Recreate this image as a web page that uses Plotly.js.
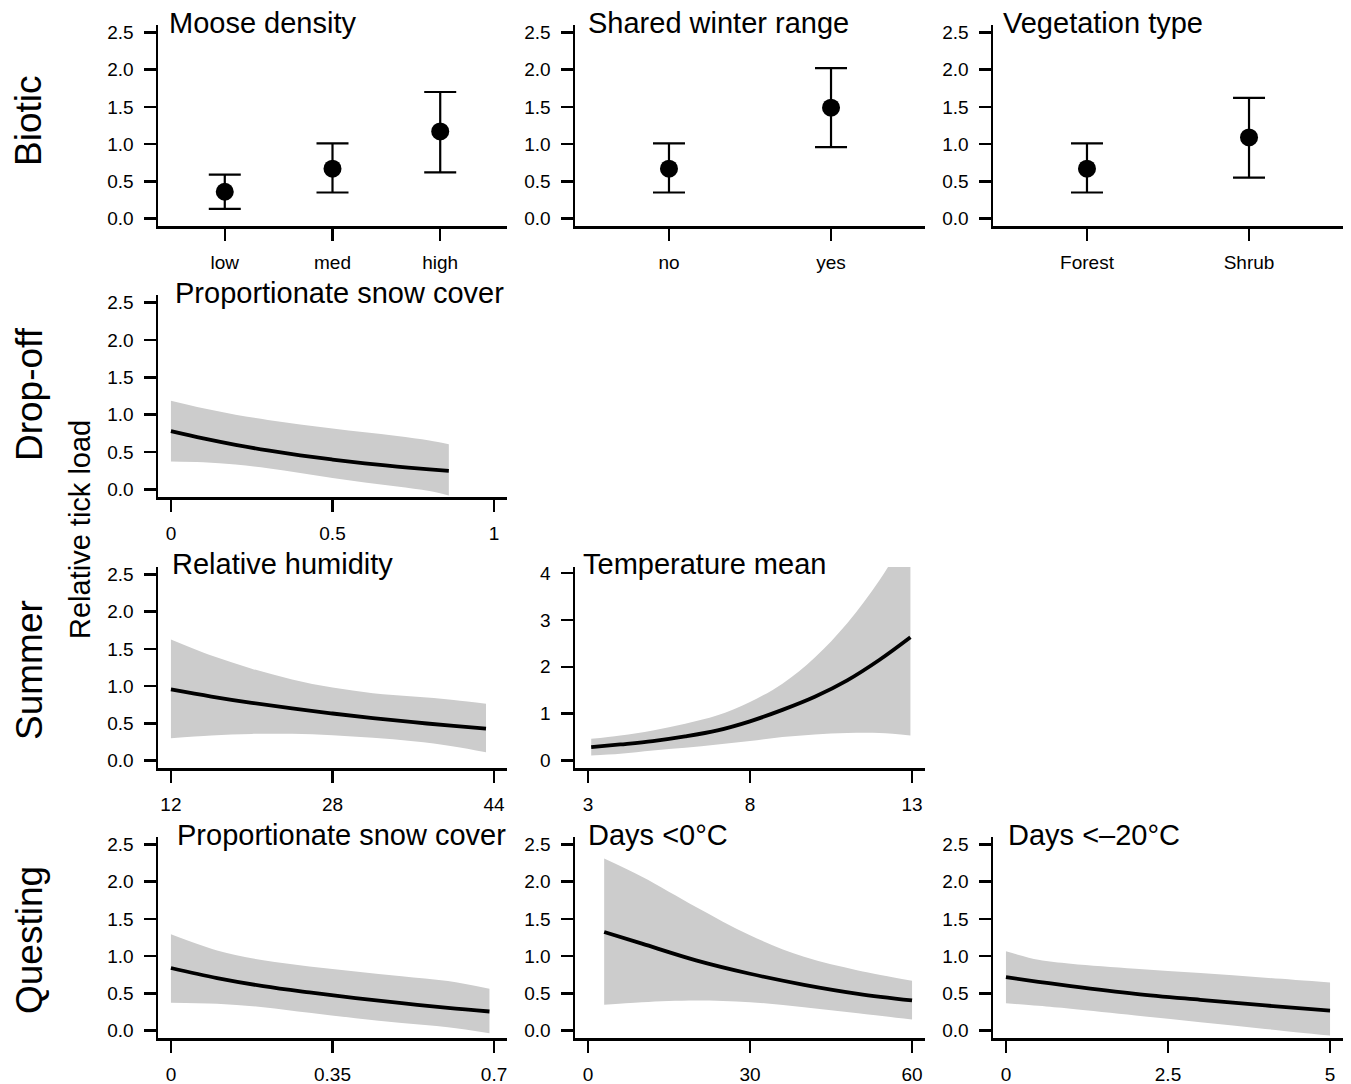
<!DOCTYPE html>
<html>
<head>
<meta charset="utf-8">
<script src="https://cdn.plot.ly/plotly-3.0.1.min.js"></script>
<style>
  html, body { margin: 0; padding: 0; background: #ffffff; }
  #chart { width: 1351px; height: 1084px; }
</style>
</head>
<body>
<div id="chart"></div>
<script>
// ---------------- DATA ----------------
// Biotic
const mooseCats = ['low', 'med', 'high'];
const mooseEst  = [0.36, 0.67, 1.17];
const mooseLow  = [0.13, 0.35, 0.62];
const mooseHigh = [0.59, 1.01, 1.70];

const winterCats = ['no', 'yes'];
const winterEst  = [0.67, 1.49];
const winterLow  = [0.35, 0.96];
const winterHigh = [1.01, 2.02];

const vegCats = ['Forest', 'Shrub'];
const vegEst  = [0.67, 1.09];
const vegLow  = [0.35, 0.55];
const vegHigh = [1.01, 1.62];

// Drop-off: proportionate snow cover
const dropSnowX    = [0, 0.1, 0.2, 0.3, 0.4, 0.5, 0.6, 0.7, 0.8, 0.86];
const dropSnowFit  = [0.78, 0.683, 0.597, 0.522, 0.457, 0.40, 0.35, 0.307, 0.269, 0.248];
const dropSnowUp   = [1.185, 1.085, 1.0, 0.93, 0.87, 0.815, 0.765, 0.715, 0.655, 0.605];
const dropSnowLow  = [0.375, 0.365, 0.335, 0.285, 0.22, 0.155, 0.095, 0.04, -0.02, -0.08];

// Summer: relative humidity
const humX    = [12, 16, 20, 24, 28, 32, 36, 40, 43.2];
const humFit  = [0.956, 0.86, 0.775, 0.70, 0.632, 0.57, 0.515, 0.465, 0.428];
const humUp   = [1.625, 1.41, 1.234, 1.09, 0.98, 0.905, 0.86, 0.815, 0.763];
const humLow  = [0.30, 0.337, 0.358, 0.36, 0.34, 0.305, 0.258, 0.19, 0.112];

// Summer: temperature mean
const tempX    = [3.1, 4, 5, 6, 7, 8, 9, 10, 11, 12, 12.95];
const tempFit  = [0.286, 0.343, 0.414, 0.514, 0.643, 0.836, 1.08, 1.36, 1.71, 2.15, 2.63];
const tempUp   = [0.464, 0.536, 0.643, 0.786, 0.964, 1.25, 1.64, 2.2, 2.93, 3.85, 4.95];
const tempLow  = [0.107, 0.143, 0.214, 0.271, 0.343, 0.414, 0.50, 0.557, 0.586, 0.586, 0.536];

// Questing: proportionate snow cover
const qSnowX    = [0, 0.1, 0.2, 0.3, 0.4, 0.5, 0.6, 0.69];
const qSnowFit  = [0.84, 0.705, 0.597, 0.512, 0.435, 0.368, 0.305, 0.256];
const qSnowUp   = [1.293, 1.077, 0.943, 0.862, 0.794, 0.73, 0.664, 0.56];
const qSnowLow  = [0.373, 0.36, 0.314, 0.238, 0.166, 0.103, 0.045, -0.036];

// Questing: days < 0 °C
const d0X    = [3, 10, 20, 30, 40, 50, 60];
const d0Fit  = [1.324, 1.167, 0.943, 0.763, 0.615, 0.494, 0.404];
const d0Up   = [2.31, 2.065, 1.66, 1.28, 0.99, 0.808, 0.67];
const d0Low  = [0.346, 0.381, 0.404, 0.381, 0.314, 0.233, 0.148];

// Questing: days < -20 °C
const d20X    = [0, 0.5, 1, 2, 3, 4, 5];
const d20Fit  = [0.718, 0.655, 0.597, 0.494, 0.413, 0.337, 0.269];
const d20Up   = [1.064, 0.95, 0.898, 0.83, 0.772, 0.709, 0.645];
const d20Low  = [0.368, 0.332, 0.292, 0.202, 0.112, 0.022, -0.067];

// Tick labels
const loadTickVals = [0, 0.5, 1, 1.5, 2, 2.5];
const loadTickText = ['0.0', '0.5', '1.0', '1.5', '2.0', '2.5'];
const tempLoadTickVals = [0, 1, 2, 3, 4];
const tempLoadTickText = ['0', '1', '2', '3', '4'];
const dropSnowTicks = [0, 0.5, 1];
const dropSnowTickText = ['0', '0.5', '1'];
const humTicks = [12, 28, 44];
const tempTicks = [3, 8, 13];
const qSnowTicks = [0, 0.35, 0.7];
const d0Ticks = [0, 30, 60];
const d20Ticks = [0, 2.5, 5];
const d20TickText = ['0', '2.5', '5'];

// Text
const panelTitles = ['Moose density', 'Shared winter range', 'Vegetation type',
  'Proportionate snow cover', 'Relative humidity', 'Temperature mean',
  'Proportionate snow cover', 'Days <0°C', 'Days <\u201320°C'];
const rowLabels = ['Biotic', 'Drop-off', 'Summer', 'Questing'];
const yLabel = 'Relative tick load';

// ---------------- LAYOUT ----------------
const W = 1351, H = 1084;
const colL = [158, 575, 993], colR = [507, 925, 1343];
const rowT = [25, 295, 567, 837], rowB = [226, 497, 768, 1038];
const FONT = 'Liberation Sans, Arial, Helvetica, sans-serif';
const GREY = '#cccccc';

function xd(c) { return [colL[c] / W, colR[c] / W]; }
function yd(r) { return [1 - rowB[r] / H, 1 - rowT[r] / H]; }

// panel: [row, col]
const panels = [[0,0],[0,1],[0,2],[1,0],[2,0],[2,1],[3,0],[3,1],[3,2]];

const baseAxis = {
  showline: true, linecolor: '#000', linewidth: 2.5,
  ticks: 'outside', ticklen: 12, tickwidth: 2.5, tickcolor: '#000',
  showgrid: false, zeroline: false,
  tickfont: { family: FONT, size: 19, color: '#000' },
  fixedrange: true
};

const xRanges = [[-0.62, 2.62], [-0.58, 1.58], [-0.58, 1.58], [-0.04, 1.04],
  [10.72, 45.28], [2.6, 13.4], [-0.028, 0.728], [-2.4, 62.4], [-0.2, 5.2]];
const xTickSpec = [null, null, null,
  [dropSnowTicks, dropSnowTickText], [humTicks, humTicks.map(String)],
  [tempTicks, tempTicks.map(String)], [qSnowTicks, qSnowTicks.map(String)],
  [d0Ticks, d0Ticks.map(String)], [d20Ticks, d20TickText]];

const layout = {
  width: W, height: H,
  margin: { l: 0, r: 0, t: 0, b: 0 },
  paper_bgcolor: '#fff', plot_bgcolor: '#fff',
  showlegend: false,
  font: { family: FONT, color: '#000' },
  annotations: []
};

panels.forEach((p, i) => {
  const n = i + 1;
  const xa = Object.assign({}, baseAxis, {
    domain: xd(p[1]), range: xRanges[i], anchor: 'y' + n,
    ticklabelstandoff: 6
  });
  if (i < 3) {
    xa.type = 'category';
  } else {
    xa.tickmode = 'array';
    xa.tickvals = xTickSpec[i][0];
    xa.ticktext = xTickSpec[i][1];
  }
  const ya = Object.assign({}, baseAxis, {
    domain: yd(p[0]), anchor: 'x' + n, tickmode: 'array',
    ticklabelstandoff: 6
  });
  if (i === 5) {
    ya.range = [-0.16, 4.13];
    ya.tickvals = tempLoadTickVals; ya.ticktext = tempLoadTickText;
  } else {
    ya.range = [-0.1, 2.6];
    ya.tickvals = loadTickVals; ya.ticktext = loadTickText;
  }
  layout['xaxis' + n] = xa;
  layout['yaxis' + n] = ya;
});

// ---------------- TRACES ----------------
const traces = [];
function catTrace(n, cats, est, lo, hi) {
  traces.push({
    type: 'scatter', mode: 'markers', x: cats, y: est,
    xaxis: 'x' + n, yaxis: 'y' + n,
    marker: { color: '#000', size: 18 },
    error_y: {
      type: 'data', symmetric: false,
      array: hi.map((h, k) => h - est[k]),
      arrayminus: lo.map((l, k) => est[k] - l),
      color: '#000', thickness: 2.2, width: 16
    },
    hoverinfo: 'skip'
  });
}
function curveTrace(n, xs, fit, lo, up) {
  traces.push({
    type: 'scatter', mode: 'lines', x: xs, y: lo,
    xaxis: 'x' + n, yaxis: 'y' + n,
    line: { width: 0, shape: 'spline', color: GREY }, hoverinfo: 'skip'
  });
  traces.push({
    type: 'scatter', mode: 'lines', x: xs, y: up,
    xaxis: 'x' + n, yaxis: 'y' + n, fill: 'tonexty', fillcolor: GREY,
    line: { width: 0, shape: 'spline', color: GREY }, hoverinfo: 'skip'
  });
  traces.push({
    type: 'scatter', mode: 'lines', x: xs, y: fit,
    xaxis: 'x' + n, yaxis: 'y' + n,
    line: { width: 3.8, shape: 'spline', color: '#000' }, hoverinfo: 'skip'
  });
}
catTrace(1, mooseCats, mooseEst, mooseLow, mooseHigh);
catTrace(2, winterCats, winterEst, winterLow, winterHigh);
catTrace(3, vegCats, vegEst, vegLow, vegHigh);
curveTrace(4, dropSnowX, dropSnowFit, dropSnowLow, dropSnowUp);
curveTrace(5, humX, humFit, humLow, humUp);
curveTrace(6, tempX, tempFit, tempLow, tempUp);
curveTrace(7, qSnowX, qSnowFit, qSnowLow, qSnowUp);
curveTrace(8, d0X, d0Fit, d0Low, d0Up);
curveTrace(9, d20X, d20Fit, d20Low, d20Up);

// ---------------- ANNOTATIONS ----------------
const titleX = [167, 586, 1001, 173, 170, 581, 175, 586, 1006];
const titleY = [22.5, 22.5, 22.5, 292.5, 563.5, 563.5, 834.5, 834.5, 834.5];
panelTitles.forEach((t, i) => {
  layout.annotations.push({
    text: t, xref: 'paper', yref: 'paper',
    x: titleX[i] / W, y: 1 - titleY[i] / H,
    xanchor: 'left', yanchor: 'middle', showarrow: false,
    font: { family: FONT, size: 29, color: '#000' }
  });
});
const rowLabelY = [121, 394, 670, 940];
rowLabels.forEach((t, r) => {
  layout.annotations.push({
    text: t, xref: 'paper', yref: 'paper',
    x: 29 / W, y: 1 - rowLabelY[r] / H,
    xanchor: 'center', yanchor: 'middle', textangle: -90, showarrow: false,
    font: { family: FONT, size: 37, color: '#000' }
  });
});
layout.annotations.push({
  text: yLabel, xref: 'paper', yref: 'paper',
  x: 80 / W, y: 1 - 530 / H,
  xanchor: 'center', yanchor: 'middle', textangle: -90, showarrow: false,
  font: { family: FONT, size: 29, color: '#000' }
});

Plotly.newPlot('chart', traces, layout, { displayModeBar: false, staticPlot: true });
</script>
</body>
</html>
